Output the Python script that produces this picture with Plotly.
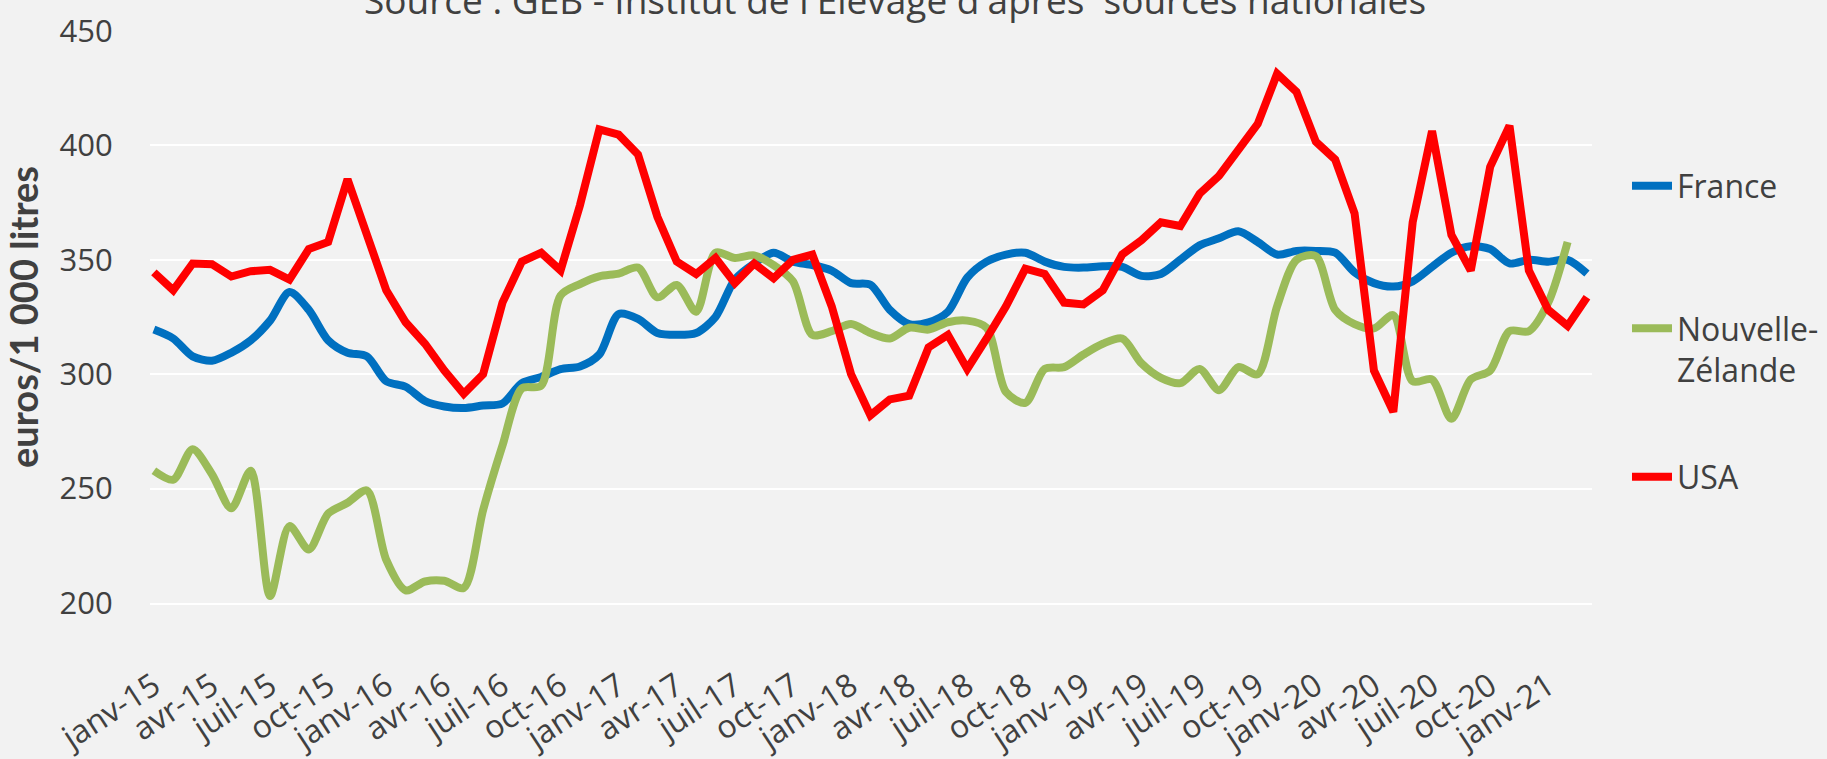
import plotly.graph_objects as go

# ---- data (janv-15 .. mars-21, monthly) ----
month_abbr = ["janv", "févr", "mars", "avr", "mai", "juin",
              "juil", "août", "sept", "oct", "nov", "déc"]
years = ["15", "16", "17", "18", "19", "20", "21"]
months = [f"{m}-{y}" for y in years for m in month_abbr][:75]

france = [319.5, 315.6, 307.8, 305.9, 309.4, 314.8, 323.4, 335.9, 328.1, 314.8,
          309.4, 307.8, 296.9, 294.5, 288.3, 285.9, 285.2, 286.3, 287.2, 296.1,
          298.8, 302.2, 303.4, 308.6, 326.3, 324.2, 318.0, 317.2, 318.0, 325.0,
          341.4, 348.4, 353.1, 349.2, 347.7, 345.3, 339.8, 339.1, 328.1, 321.9,
          322.7, 327.3, 342.2, 349.2, 352.3, 353.1, 349.2, 346.9, 346.6, 347.2,
          346.9, 343.0, 343.8, 350.0, 356.3, 359.4, 362.5, 357.8, 352.3, 353.9,
          353.9, 353.1, 344.5, 339.8, 338.3, 340.6, 346.9, 353.1, 355.9, 354.7,
          348.4, 350.0, 349.2, 350.0, 344.0]

nouvelle_zelande = [257.8, 253.9, 267.2, 256.3, 241.4, 257.8, 203.1, 233.6, 223.4, 239.1,
                    243.8, 249.2, 218.8, 205.5, 209.4, 209.7, 206.6, 240.6, 268.8, 293.8,
                    295.0, 334.4, 339.4, 342.8, 344.0, 346.6, 333.6, 339.0, 327.3, 353.1,
                    350.8, 351.9, 347.7, 340.6, 317.2, 318.8, 321.9, 318.0, 315.6, 320.3,
                    319.5, 322.7, 323.4, 320.3, 292.2, 287.5, 302.3, 303.1, 308.6, 313.3,
                    315.6, 304.7, 298.4, 296.1, 302.3, 293.0, 303.1, 300.0, 329.7, 350.0,
                    351.6, 328.1, 321.9, 320.0, 325.8, 296.9, 297.7, 280.5, 297.7, 301.6,
                    318.8, 318.8, 331.3, 357.8]

usa = [344.5, 336.7, 348.4, 348.1, 342.7, 345.0, 345.6, 341.4, 354.7, 357.8,
       385.2, 361.0, 336.7, 322.7, 313.3, 301.6, 291.4, 300.0, 331.3, 349.2,
       353.1, 345.3, 373.8, 407.0, 404.7, 396.0, 368.8, 349.2, 343.8, 350.8,
       339.8, 348.4, 341.9, 350.0, 352.3, 329.7, 300.0, 282.0, 289.0, 290.6,
       311.7, 317.2, 302.3, 315.6, 329.7, 346.1, 343.8, 331.3, 330.5, 336.7,
       352.3, 358.6, 366.4, 364.8, 378.9, 386.7, 398.4, 409.4, 431.3, 423.4,
       401.6, 393.8, 370.3, 301.6, 283.6, 366.4, 406.3, 360.9, 345.3, 390.6,
       408.6, 345.3, 328.1, 321.1, 333.6]

tick_labels = ["janv-15", "avr-15", "juil-15", "oct-15", "janv-16", "avr-16", "juil-16",
               "oct-16", "janv-17", "avr-17", "juil-17", "oct-17", "janv-18", "avr-18",
               "juil-18", "oct-18", "janv-19", "avr-19", "juil-19", "oct-19", "janv-20",
               "avr-20", "juil-20", "oct-20", "janv-21"]
y_ticks = [200, 250, 300, 350, 400, 450]

x_idx = list(range(len(months)))
tick_pos = [months.index(t) for t in tick_labels]

FONT = "'Open Sans', Lato, sans-serif"
BFONT = "Lato, 'Open Sans', sans-serif"
TXT = "#404040"

fig = go.Figure()
fig.add_trace(go.Scatter(x=x_idx[:len(france)], y=france, name="France", mode="lines",
                         line=dict(color="#0070C0", width=8, shape="spline", smoothing=0.8),
                         legend="legend"))
fig.add_trace(go.Scatter(x=x_idx[:len(nouvelle_zelande)], y=nouvelle_zelande,
                         name="Nouvelle-<br>Zélande", mode="lines",
                         line=dict(color="#9BBB59", width=8, shape="spline", smoothing=0.8),
                         legend="legend2"))
fig.add_trace(go.Scatter(x=x_idx[:len(usa)], y=usa, name="USA", mode="lines",
                         line=dict(color="#FF0000", width=8, shape="linear"),
                         legend="legend3"))

W, H = 1827, 759
L, R, T, B = 150, 1827 - 1592, 31, 759 - 603
ph = H - T - B

def py(pix):
    return (H - B - pix) / ph

def px(pix):
    return (pix - L) / (W - L - R)

leg_common = dict(font=dict(family=FONT, size=32, color=TXT), bgcolor="rgba(0,0,0,0)",
                  xanchor="left", valign="top", itemwidth=40)

fig.update_layout(
    width=W, height=H, autosize=False,
    margin=dict(l=L, r=R, t=T, b=B, autoexpand=False),
    paper_bgcolor="#f2f2f2", plot_bgcolor="#f2f2f2",
    showlegend=True,
    legend=dict(x=px(1627), y=py(186), yanchor="middle", **leg_common),
    legend2=dict(x=px(1627), y=py(301), yanchor="top", **leg_common),
    legend3=dict(x=px(1627), y=py(477), yanchor="middle", **leg_common),
    xaxis=dict(range=[-0.2, 74.26], tickmode="array", tickvals=tick_pos, ticktext=tick_labels,
               tickangle=-33, tickfont=dict(family=FONT, size=32, color=TXT),
               ticks="outside", ticklen=50, tickcolor="rgba(0,0,0,0)", automargin=False,
               showgrid=False, showline=True, linecolor="#ffffff", linewidth=1.5,
               zeroline=False, fixedrange=True),
    yaxis=dict(range=[200, 450], tickmode="array", tickvals=y_ticks, automargin=False,
               tickfont=dict(family=FONT, size=31, color=TXT),
               ticks="outside", ticklen=30, tickcolor="rgba(0,0,0,0)",
               showgrid=True, gridcolor="#ffffff", gridwidth=1.5, zeroline=False,
               title=dict(text="<b>euros/1 000 litres</b>", standoff=10,
                          font=dict(family=BFONT, size=38, color=TXT))),
    annotations=[dict(text="Source : GEB - Institut de l'Elevage d'après  sources nationales",
                      xref="paper", yref="paper", x=px(895), y=py(27), xanchor="center",
                      yanchor="bottom", showarrow=False,
                      font=dict(family=FONT, size=37, color=TXT))],
)

fig.write_html("out.html", config={"displayModeBar": False},
               post_script="document.body.style.margin='0';"
                           "document.body.style.background='#f2f2f2';")
